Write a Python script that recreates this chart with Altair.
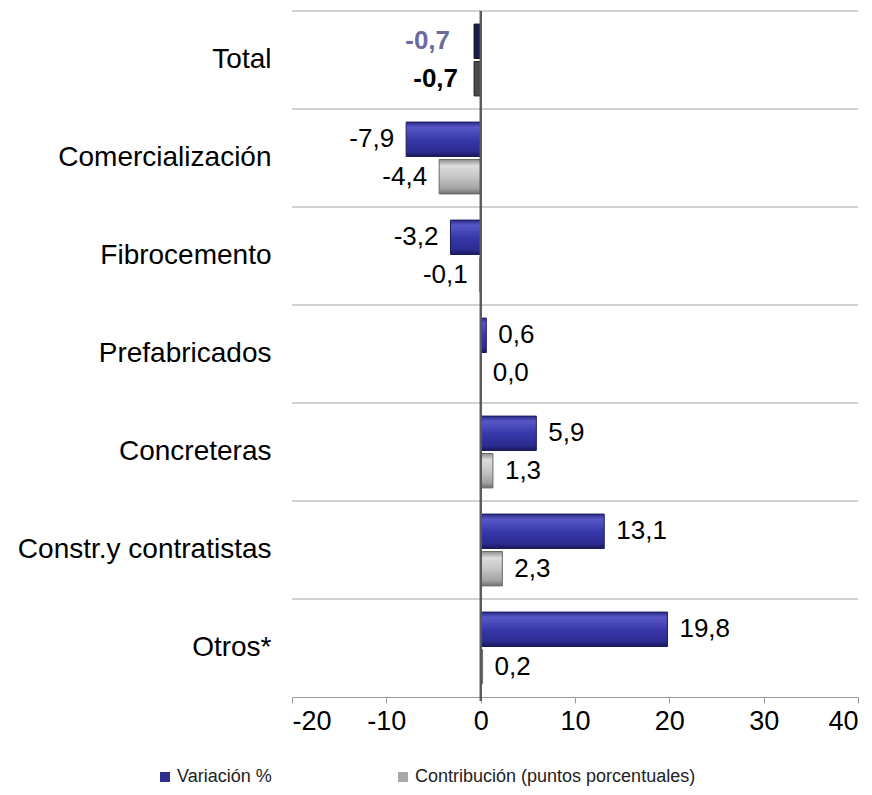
import altair as alt
import pandas as pd

categories = ["Total", "Comercialización", "Fibrocemento", "Prefabricados",
              "Concreteras", "Constr.y contratistas", "Otros*"]
variacion = [-0.7, -7.9, -3.2, 0.6, 5.9, 13.1, 19.8]
contribucion = [-0.7, -4.4, -0.1, 0.0, 1.3, 2.3, 0.2]
series = ["Variación %", "Contribución (puntos porcentuales)"]
x_ticks = [-20, -10, 0, 10, 20, 30, 40]

rows = []
for c, v, k in zip(categories, variacion, contribucion):
    for s, val in zip(series, (v, k)):
        rows.append({
            "cat": c, "serie": s, "valor": val,
            "label": f"{val:.1f}".replace(".", ","),
            "total": c == "Total",
            "pos": val >= 0,
        })
df = pd.DataFrame(rows)
cats_df = pd.DataFrame({"cat": categories})

W, H = 566, 686
FONT = "Liberation Sans"

y_axis = alt.Axis(title=None, domain=False, ticks=False, grid=False,
                  labelFont=FONT, labelFontSize=28, labelColor="black",
                  labelPadding=21, labelLimit=400)
y_scale = alt.Scale(paddingInner=0, paddingOuter=0)
y_enc = alt.Y("cat:N", sort=categories, scale=y_scale, axis=y_axis)
yoff_enc = alt.YOffset("serie:N", sort=series,
                       scale=alt.Scale(paddingInner=0.08, paddingOuter=0.35))
x_enc = alt.X("valor:Q",
              scale=alt.Scale(domain=[-20, 40], nice=False, zero=False),
              axis=alt.Axis(title=None, values=x_ticks, grid=False,
                            domainColor="#9a9a9a", tickColor="#9a9a9a",
                            tickSize=6, labelPadding=5, labelFont=FONT,
                            labelFontSize=27, labelColor="black", format="d",
                            labelExpr="replace(datum.label, '\u2212', '-')"))

base = alt.Chart(df).encode(y=y_enc, yOffset=yoff_enc, x=x_enc)

blue_grad = alt.Gradient(gradient="linear", x1=0, y1=0, x2=0, y2=1, stops=[
    alt.GradientStop(offset=0, color="#2a2a86"),
    alt.GradientStop(offset=0.15, color="#5858c8"),
    alt.GradientStop(offset=0.5, color="#3838aa"),
    alt.GradientStop(offset=0.85, color="#2c2c92"),
    alt.GradientStop(offset=1, color="#181858"),
])
grey_grad = alt.Gradient(gradient="linear", x1=0, y1=0, x2=0, y2=1, stops=[
    alt.GradientStop(offset=0, color="#8c8c8c"),
    alt.GradientStop(offset=0.18, color="#dcdcdc"),
    alt.GradientStop(offset=0.5, color="#c6c6c6"),
    alt.GradientStop(offset=0.85, color="#a2a2a2"),
    alt.GradientStop(offset=1, color="#6e6e6e"),
])

grid = alt.Chart(cats_df).mark_rule(color="#c2c2c2", strokeWidth=1.5).encode(
    y=alt.Y("cat:N", sort=categories, bandPosition=0, scale=y_scale, axis=y_axis),
    x=alt.value(0), x2=alt.value(W))

bars_var = base.transform_filter(
    (alt.datum.serie == series[0]) & (alt.datum.total == False)
).mark_bar(fill=blue_grad, stroke="#1c1c5c", strokeWidth=1)

bars_con = base.transform_filter(
    (alt.datum.serie == series[1]) & (alt.datum.total == False)
).mark_bar(fill=grey_grad, stroke="#6a6a6a", strokeWidth=1)

bars_tot_var = base.transform_filter(
    (alt.datum.serie == series[0]) & (alt.datum.total == True)
).mark_bar(color="#1c1c4c", stroke="#111", strokeWidth=1)

bars_tot_con = base.transform_filter(
    (alt.datum.serie == series[1]) & (alt.datum.total == True)
).mark_bar(color="#4a4a4a", stroke="#222", strokeWidth=1)

zero = alt.Chart(cats_df).mark_rule(color="#5a5a5a", strokeWidth=1.5).encode(
    x=alt.datum(0), y=alt.value(0), y2=alt.value(H + 4))

txt_pos = base.transform_filter(
    (alt.datum.pos == True) & (alt.datum.total == False)
).mark_text(align="left", baseline="middle", dx=12, font=FONT, fontSize=26,
            color="black").encode(text="label:N")

txt_neg = base.transform_filter(
    (alt.datum.pos == False) & (alt.datum.total == False)
).mark_text(align="right", baseline="middle", dx=-12, font=FONT, fontSize=26,
            color="black").encode(text="label:N")

txt_tot_var = base.transform_filter(
    (alt.datum.serie == series[0]) & (alt.datum.total == True)
).mark_text(align="right", baseline="middle", dx=-24, font=FONT, fontSize=26,
            fontWeight="bold", color="#6b6b99").encode(text="label:N")

txt_tot_con = base.transform_filter(
    (alt.datum.serie == series[1]) & (alt.datum.total == True)
).mark_text(align="right", baseline="middle", dx=-16, font=FONT, fontSize=26,
            fontWeight="bold", color="black").encode(text="label:N")

legend_layer = base.mark_square(opacity=0).encode(
    color=alt.Color("serie:N", sort=series,
                    scale=alt.Scale(domain=series, range=["#2e2e8e", "#a8a8a8"]),
                    legend=alt.Legend(title=None, orient="none", direction="horizontal",
                                      legendX=-136, legendY=757, symbolType="square",
                                      symbolSize=100, symbolOpacity=1,
                                      symbolStrokeWidth=0, labelFont=FONT,
                                      labelFontSize=18, labelColor="#222",
                                      labelOffset=3, columnPadding=122,
                                      labelLimit=500)))

chart = alt.layer(
    grid, bars_var, bars_con, bars_tot_var, bars_tot_con, zero,
    txt_pos, txt_neg, txt_tot_var, txt_tot_con, legend_layer
).properties(
    width=W, height=H,
    padding={"left": 284, "top": 3, "right": 6, "bottom": 90},
    autosize=alt.AutoSizeParams(type="none"),
    background="white",
).configure_view(stroke=None)

chart.save("out.html", embed_options={"renderer": "svg", "actions": False})
